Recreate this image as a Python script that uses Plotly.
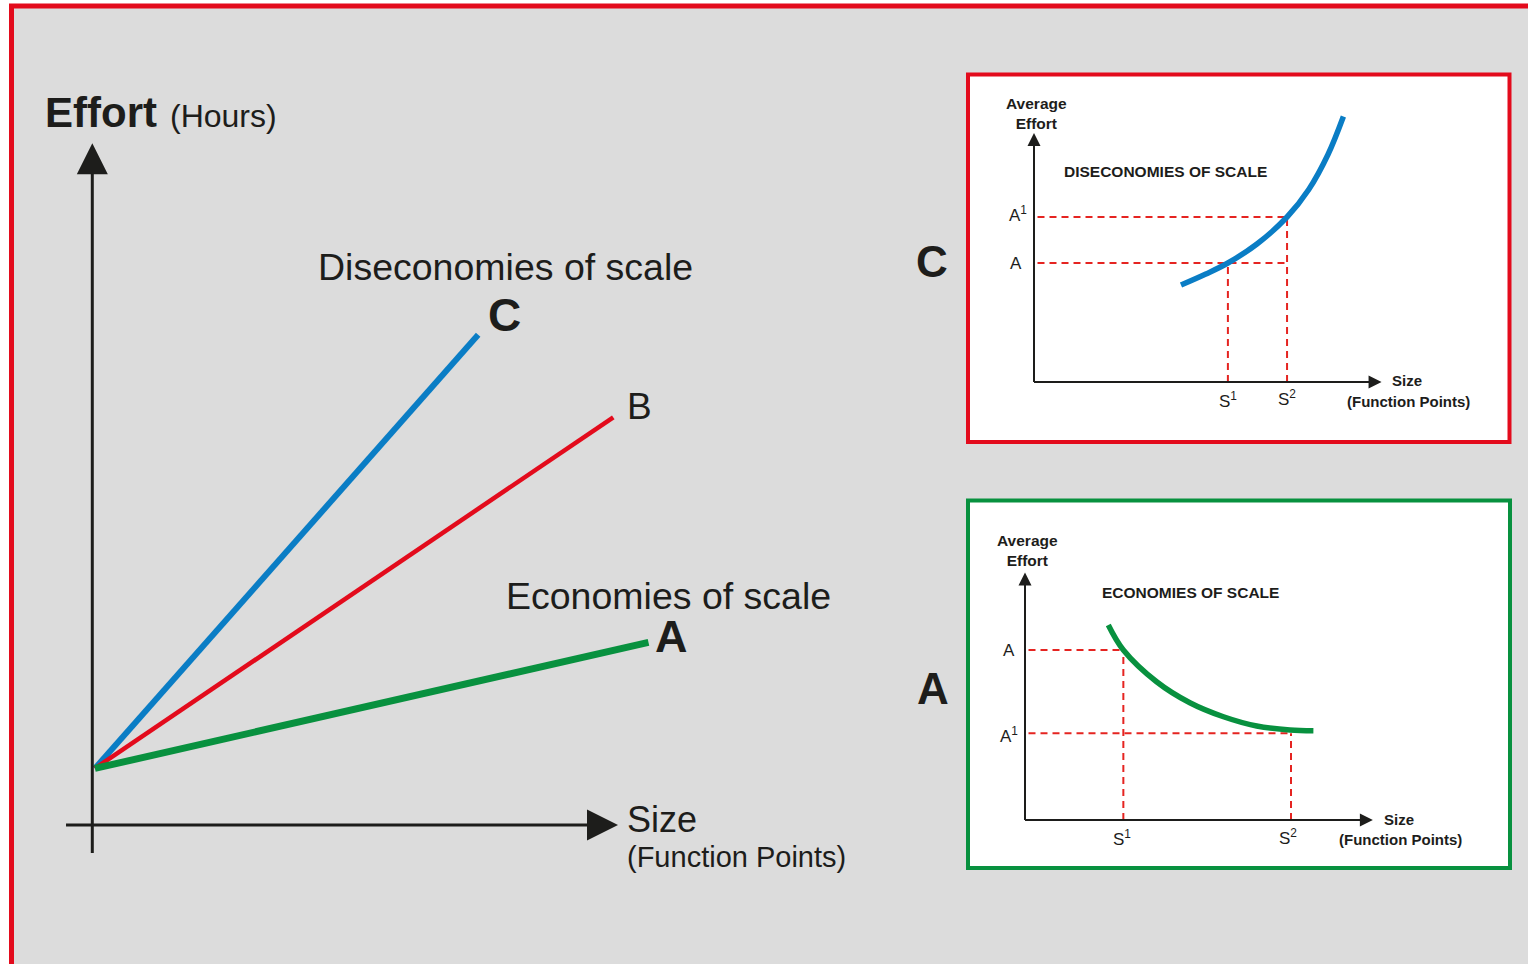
import plotly.graph_objects as go

W, H = 1528, 964
FONT = "Liberation Sans, Arial, sans-serif"
TXT = "#1d1d1b"
BLUE = "#0a7dc5"
RED = "#e30b1c"
GREEN = "#08913f"
DASH_RED = "#e52421"
GREY = "#dcdcdc"

# ---------------- main chart data (arbitrary units) ----------------
line_names = ["C", "B", "A"]
start_size = 0.5
start_effort = 8.3
end_size = [73.4, 99.1, 105.8]
end_effort = [71.9, 59.8, 26.8]
main_axis_min = [-5.0, -4.1]      # x, y axis start
main_axis_tip = [100.0, 100.0]    # x, y arrow tips

# ---------------- inset C: diseconomies of scale ----------------
dis_size = [4.2, 4.91, 5.54, 6.37, 7.23, 7.85, 8.4, 8.84]
dis_effort = [3.88, 4.32, 4.76, 5.52, 6.6, 7.7, 9.1, 10.62]
dis_S = [5.54, 7.23]    # S1, S2
dis_A = [4.76, 6.6]     # A, A1
dis_h_end = [7.23, 7.23]  # where the A / A1 guides stop
dis_tip = [9.93, 9.96]

# ---------------- inset A: economies of scale ----------------
eco_size = [2.38, 2.81, 3.76, 4.71, 5.67, 6.62, 7.57, 8.24]
eco_effort = [7.8, 6.8, 5.53, 4.69, 4.13, 3.76, 3.6, 3.57]
eco_S = [2.81, 7.6]     # S1, S2
eco_A = [6.8, 3.47]     # A, A1
eco_h_end = [2.81, 7.6]
eco_tip = [9.94, 9.9]


def xdom(p0, p1):
    return [p0 / W, p1 / W]


def ydom(p0, p1):
    return [1 - p1 / H, 1 - p0 / H]


def xrng(p0, p1, origin, ppu):
    return [(p0 - origin) / ppu, (p1 - origin) / ppu]


def yrng(p0, p1, origin, ppu):
    return [(origin - p1) / ppu, (origin - p0) / ppu]


fig = go.Figure()

# ---- main lines ----
line_colors = {"C": BLUE, "B": RED, "A": GREEN}
line_widths = {"C": 6, "B": 4.5, "A": 7}
for name, xs, ys in zip(line_names, end_size, end_effort):
    fig.add_trace(go.Scatter(x=[start_size, xs], y=[start_effort, ys], mode="lines",
                             line=dict(color=line_colors[name], width=line_widths[name]),
                             xaxis="x", yaxis="y", hoverinfo="skip", showlegend=False))

# main axes
fig.add_trace(go.Scatter(x=[0, 0], y=[main_axis_min[1], main_axis_tip[1] - 3], mode="lines",
                         line=dict(color=TXT, width=3), xaxis="x", yaxis="y", hoverinfo="skip", showlegend=False))
fig.add_trace(go.Scatter(x=[main_axis_min[0], main_axis_tip[0] - 3], y=[0, 0], mode="lines",
                         line=dict(color=TXT, width=3), xaxis="x", yaxis="y", hoverinfo="skip", showlegend=False))
fig.add_trace(go.Scatter(x=[0, main_axis_tip[0]], y=[main_axis_tip[1], 0], mode="markers",
                         marker=dict(symbol=["arrow-up", "arrow-right"], size=31, color=TXT, line=dict(width=0)),
                         xaxis="x", yaxis="y", hoverinfo="skip", showlegend=False))


def inset(xs, ys, S, A, h_end, tip, color, xa, ya, width):
    dash = dict(color=DASH_RED, width=2, dash="7px,5px")
    # horizontal guides
    fig.add_trace(go.Scatter(x=[0.1, h_end[0], None, 0.1, h_end[1]], y=[A[0], A[0], None, A[1], A[1]],
                             mode="lines", line=dash, xaxis=xa, yaxis=ya, hoverinfo="skip", showlegend=False))
    # vertical guides
    fig.add_trace(go.Scatter(x=[S[0], S[0], None, S[1], S[1]], y=[0, A[0], None, 0, A[1]],
                             mode="lines", line=dash, xaxis=xa, yaxis=ya, hoverinfo="skip", showlegend=False))
    # axes
    fig.add_trace(go.Scatter(x=[0, 0, None, 0, tip[0] - 0.3], y=[tip[1] - 0.4, 0, None, 0, 0], mode="lines",
                             line=dict(color=TXT, width=2), xaxis=xa, yaxis=ya, hoverinfo="skip", showlegend=False))
    fig.add_trace(go.Scatter(x=[0, tip[0]], y=[tip[1], 0], mode="markers",
                             marker=dict(symbol=["arrow-up", "arrow-right"], size=13, color=TXT, line=dict(width=0)),
                             xaxis=xa, yaxis=ya, hoverinfo="skip", showlegend=False))
    # curve
    fig.add_trace(go.Scatter(x=xs, y=ys, mode="lines", line=dict(color=color, width=width, shape="spline", smoothing=1.0),
                             xaxis=xa, yaxis=ya, hoverinfo="skip", showlegend=False))


inset(dis_size, dis_effort, dis_S, dis_A, dis_h_end, dis_tip, BLUE, "x2", "y2", 5.5)
inset(eco_size, eco_effort, eco_S, eco_A, eco_h_end, eco_tip, GREEN, "x3", "y3", 5.5)

# ---- axes layout ----
MAIN_O = (92.3, 825.0)
MAIN_PPU = (5.257, 6.817)
C_O = (1034.0, 382.0)
A_O = (1025.0, 820.0)
IN_PPU = (35.0, 25.0)

hidden = dict(visible=False, showgrid=False, zeroline=False, fixedrange=True)
fig.update_layout(
    xaxis=dict(domain=xdom(20, 720), range=xrng(20, 720, MAIN_O[0], MAIN_PPU[0]), anchor="y", **hidden),
    yaxis=dict(domain=ydom(120, 900), range=yrng(120, 900, MAIN_O[1], MAIN_PPU[1]), anchor="x", **hidden),
    xaxis2=dict(domain=xdom(990, 1400), range=xrng(990, 1400, C_O[0], IN_PPU[0]), anchor="y2", **hidden),
    yaxis2=dict(domain=ydom(100, 425), range=yrng(100, 425, C_O[1], IN_PPU[1]), anchor="x2", **hidden),
    xaxis3=dict(domain=xdom(980, 1400), range=xrng(980, 1400, A_O[0], IN_PPU[0]), anchor="y3", **hidden),
    yaxis3=dict(domain=ydom(550, 860), range=yrng(550, 860, A_O[1], IN_PPU[1]), anchor="x3", **hidden),
)

# ---- background shapes ----
shapes = [
    dict(type="rect", xref="paper", yref="paper", x0=11.5 / W, x1=1.02, y0=-0.02, y1=1 - 6 / H,
         fillcolor=GREY, line=dict(color=RED, width=5), layer="below"),
    dict(type="rect", xref="paper", yref="paper", x0=968 / W, x1=1509.5 / W, y0=1 - 442 / H, y1=1 - 74.5 / H,
         fillcolor="white", line=dict(color=RED, width=4), layer="below"),
    dict(type="rect", xref="paper", yref="paper", x0=968 / W, x1=1510 / W, y0=1 - 868 / H, y1=1 - 500.5 / H,
         fillcolor="white", line=dict(color=GREEN, width=4), layer="below"),
]


def txt(text, px, py, size, bold=False, xanchor="center", yanchor="middle"):
    if bold:
        text = "<b>" + text + "</b>"
    return dict(text=text, x=px / W, y=1 - py / H, xref="paper", yref="paper", showarrow=False,
                font=dict(family=FONT, size=size, color=TXT), xanchor=xanchor, yanchor=yanchor)


def dtxt(text, x, y, xa, ya, size, bold=False):
    if bold:
        text = "<b>" + text + "</b>"
    return dict(text=text, x=x, y=y, xref=xa, yref=ya, showarrow=False,
                font=dict(family=FONT, size=size, color=TXT), xanchor="center", yanchor="middle")


ann = [
    txt("Effort", 43, 112.5, 42, bold=True, xanchor="left"),
    txt("(Hours)", 168, 116, 32, xanchor="left"),
    txt("Diseconomies of scale", 505.5, 267, 37.5),
    txt("Economies of scale", 668, 596, 37.5),
    txt("Size", 625, 819, 36, xanchor="left"),
    txt("(Function Points)", 625, 857, 29, xanchor="left"),
    txt("C", 932, 262, 44, bold=True),
    txt("A", 933, 688, 44, bold=True),
]
# line end labels
label_off = {"C": (26.7, 20, 46, True), "B": (26, 11, 37, False), "A": (23.4, 5.6, 45, True)}
for name, xs, ys in zip(line_names, end_size, end_effort):
    dx, dy, sz, b = label_off[name]
    ann.append(dtxt(name, xs + dx / MAIN_PPU[0], ys + dy / MAIN_PPU[1], "x", "y", sz, bold=b))

# inset C texts
ann += [
    txt("Average<br>Effort", 1036, 113, 15.5, bold=True),
    txt("DISECONOMIES OF SCALE", 1165, 171, 15.5, bold=True),
    txt("Size", 1407, 381, 15, bold=True),
    txt("(Function Points)", 1408.6, 401, 15, bold=True),
    dtxt("A", -0.51, dis_A[0], "x2", "y2", 17),
    dtxt("A<sup>1</sup>", -0.45, dis_A[1] + 0.1, "x2", "y2", 17),
    dtxt("S<sup>1</sup>", dis_S[0], -0.7, "x2", "y2", 17),
    dtxt("S<sup>2</sup>", dis_S[1], -0.65, "x2", "y2", 17),
]
# inset A texts
ann += [
    txt("Average<br>Effort", 1027, 550.5, 15.5, bold=True),
    txt("ECONOMIES OF SCALE", 1190.4, 592.6, 15.5, bold=True),
    txt("Size", 1398.6, 819, 15, bold=True),
    txt("(Function Points)", 1400.4, 839, 15, bold=True),
    dtxt("A", -0.47, eco_A[0], "x3", "y3", 17),
    dtxt("A<sup>1</sup>", -0.45, eco_A[1] - 0.05, "x3", "y3", 17),
    dtxt("S<sup>1</sup>", eco_S[0] - 0.05, -0.72, "x3", "y3", 17),
    dtxt("S<sup>2</sup>", eco_S[1] - 0.1, -0.68, "x3", "y3", 17),
]

fig.update_layout(
    width=W, height=H, autosize=False,
    margin=dict(l=0, r=0, t=0, b=0, pad=0),
    paper_bgcolor="white", plot_bgcolor="rgba(0,0,0,0)",
    shapes=shapes, annotations=ann, showlegend=False,
)

fig.write_html("out.html", config={"displayModeBar": False, "staticPlot": True},
               post_script="document.body.style.margin='0';document.body.style.overflow='hidden';")
